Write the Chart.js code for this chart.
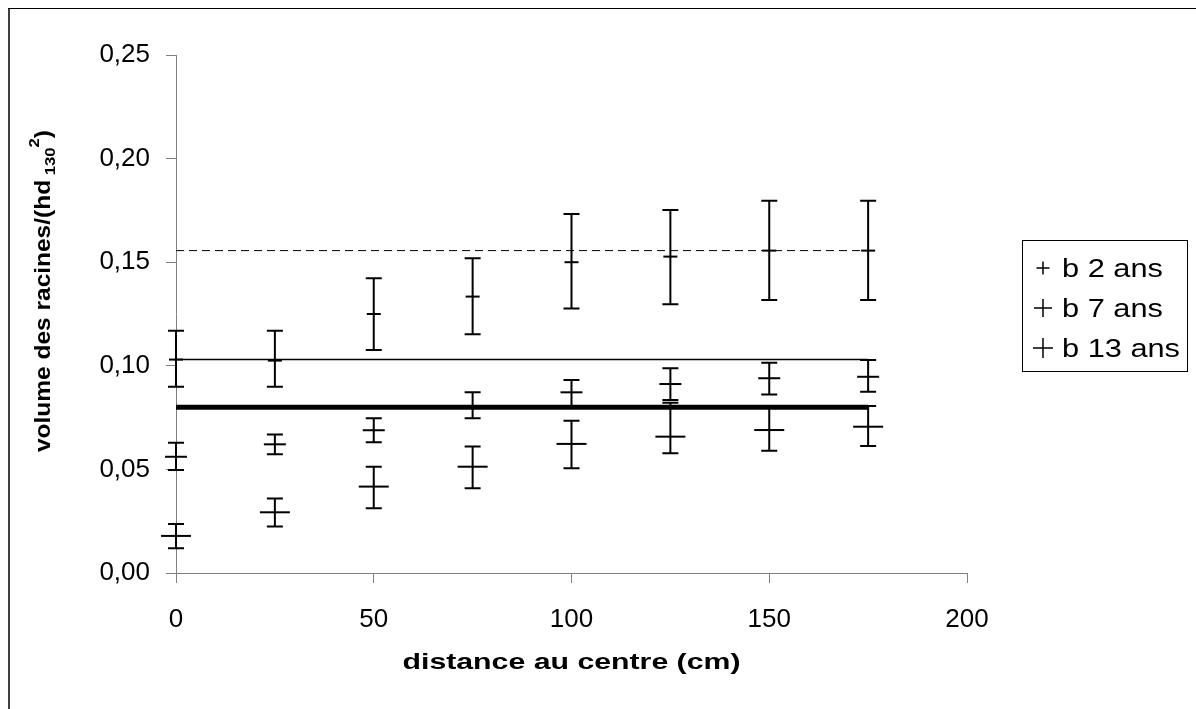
<!DOCTYPE html>
<html>
<head>
<meta charset="utf-8">
<script src="https://cdn.jsdelivr.net/npm/chart.js@4"></script>
<style>
  html, body { margin: 0; padding: 0; background: #fff; }
  canvas { display: block; }
</style>
</head>
<body>
<canvas id="racinesChart" width="1196" height="709"></canvas>
<script>
const distances = [0, 25, 50, 75, 100, 125, 150, 175];

// moyennes et bornes des barres d'erreur, par age
const moy2ans = [0.103, 0.1025, 0.125, 0.1334, 0.150, 0.1527, 0.1556, 0.1556];
const min2ans = [0.0899, 0.0899, 0.1076, 0.1152, 0.1277, 0.1297, 0.1318, 0.1318];
const max2ans = [0.1169, 0.1169, 0.1422, 0.1519, 0.1733, 0.1752, 0.1797, 0.1797];

const moy7ans = [0.0561, 0.0621, 0.0689, 0.0803, 0.0872, 0.0912, 0.0940, 0.0947];
const min7ans = [0.0497, 0.0573, 0.0631, 0.0747, 0.0806, 0.0835, 0.0862, 0.0875];
const max7ans = [0.0629, 0.0669, 0.0747, 0.0872, 0.0931, 0.0988, 0.1015, 0.1028];

const moy13ans = [0.0179, 0.0293, 0.0417, 0.0513, 0.0623, 0.0658, 0.0690, 0.0706];
const min13ans = [0.0119, 0.0224, 0.0312, 0.0409, 0.0505, 0.0578, 0.0590, 0.0613];
const max13ans = [0.0237, 0.0360, 0.0513, 0.0610, 0.0735, 0.0822, 0.0803, 0.0806];

// niveaux horizontaux (pointillé, fin, épais)
const niveaux = [0.1556, 0.1030, 0.0800];

const legendLabels = ['b 2 ans', 'b 7 ans', 'b 13 ans'];
const yTicks = [0, 0.05, 0.10, 0.15, 0.20, 0.25];
const xTicks = [0, 50, 100, 150, 200];
const xTitle = 'distance au centre (cm)';

const FONT = "'Liberation Sans', Arial, sans-serif";

function points(values) {
    return distances.map((d, i) => ({ x: d, y: values[i] }));
}

function serie(label, values, low, high, radius) {
    return {
        label: label,
        data: points(values),
        errLow: low,
        errHigh: high,
        showLine: false,
        pointStyle: 'line',
        pointRadius: radius,
        pointHoverRadius: radius,
        pointBorderWidth: 2,
        borderColor: '#000',
        backgroundColor: '#000',
        clip: false
    };
}

function niveau(value, width, dash) {
    return {
        data: [{ x: distances[0], y: value }, { x: distances[distances.length - 1], y: value }],
        showLine: true,
        pointRadius: 0,
        borderWidth: width,
        borderDash: dash,
        borderColor: '#000',
        clip: false
    };
}

const errorBars = {
    id: 'errorBars',
    afterDatasetsDraw(chart) {
        const ctx = chart.ctx;
        const xs = chart.scales.x, ys = chart.scales.y;
        ctx.save();
        ctx.strokeStyle = '#000';
        ctx.lineWidth = 2;
        chart.data.datasets.forEach(ds => {
            if (!ds.errLow) return;
            distances.forEach((d, i) => {
                const x = xs.getPixelForValue(d);
                const y1 = ys.getPixelForValue(ds.errLow[i]);
                const y2 = ys.getPixelForValue(ds.errHigh[i]);
                ctx.beginPath();
                ctx.moveTo(x, y1); ctx.lineTo(x, y2);
                ctx.moveTo(x - 8, y1); ctx.lineTo(x + 8, y1);
                ctx.moveTo(x - 8, y2); ctx.lineTo(x + 8, y2);
                ctx.stroke();
            });
        });
        ctx.restore();
    }
};

// cadre, légende encadrée et titres des axes (texte un peu étiré)
const decor = {
    id: 'decor',
    afterDraw(chart) {
        const ctx = chart.ctx;
        ctx.save();
        ctx.fillStyle = '#000';

        ctx.strokeStyle = '#404040';
        ctx.lineWidth = 2;
        ctx.beginPath();
        ctx.moveTo(9, 709); ctx.lineTo(9, 8);
        ctx.stroke();
        ctx.strokeStyle = '#000';
        ctx.lineWidth = 1;
        ctx.beginPath();
        ctx.moveTo(8, 8.5); ctx.lineTo(1196, 8.5);
        ctx.stroke();

        // légende
        ctx.strokeRect(1022.5, 240.5, 165, 131);
        const sizes = [6.5, 9, 10];
        ctx.font = '26px ' + FONT;
        ctx.textBaseline = 'alphabetic';
        const sx = 118 / ctx.measureText(legendLabels[2]).width;
        legendLabels.forEach((lab, i) => {
            const base = 277 + i * 40;
            const cx = 1043, cy = base - 9;
            const r = sizes[i];
            ctx.lineWidth = 1.5;
            ctx.beginPath();
            ctx.moveTo(cx - r, cy); ctx.lineTo(cx + r, cy);
            ctx.moveTo(cx, cy - r); ctx.lineTo(cx, cy + r);
            ctx.stroke();
            ctx.save();
            ctx.translate(1062, base);
            ctx.scale(sx, 1);
            ctx.fillText(lab, 0, 0);
            ctx.restore();
        });

        // titre de l'axe x
        const ca = chart.chartArea;
        ctx.save();
        ctx.font = 'bold 22px ' + FONT;
        ctx.textBaseline = 'middle';
        ctx.textAlign = 'center';
        ctx.translate((ca.left + ca.right) / 2, 663);
        ctx.scale(338 / ctx.measureText(xTitle).width, 1);
        ctx.fillText(xTitle, 0, 0);
        ctx.restore();

        // titre de l'axe y avec indice et exposant
        const big = 'bold 22px ' + FONT;
        const small = 'bold 15px ' + FONT;
        const parts = [
            { t: 'volume des racines/(hd', f: big, dy: 0 },
            { t: ' 130', f: small, dy: 5 },
            { t: '2', f: small, dy: -11 },
            { t: ')', f: big, dy: 0 }
        ];
        let total = 0;
        parts.forEach(p => { ctx.font = p.f; p.w = ctx.measureText(p.t).width; total += p.w; });
        ctx.textAlign = 'left';
        ctx.translate(50, 291);
        ctx.rotate(-Math.PI / 2);
        ctx.scale(322 / total, 1);
        let x = -total / 2;
        parts.forEach(p => {
            ctx.font = p.f;
            ctx.fillText(p.t, x, p.dy);
            x += p.w;
        });
        ctx.restore();
    }
};

const axisColor = '#808080';

new Chart(document.getElementById('racinesChart'), {
    type: 'scatter',
    data: {
        datasets: [
            serie(legendLabels[0], moy2ans, min2ans, max2ans, 7),
            serie(legendLabels[1], moy7ans, min7ans, max7ans, 11),
            serie(legendLabels[2], moy13ans, min13ans, max13ans, 15),
            niveau(niveaux[0], 1, [8, 5]),
            niveau(niveaux[1], 1.5, []),
            niveau(niveaux[2], 5, [])
        ]
    },
    options: {
        responsive: false,
        animation: false,
        layout: { padding: { top: 55, right: 229, left: 0, bottom: 0 } },
        plugins: {
            legend: { display: false },
            tooltip: { enabled: false }
        },
        scales: {
            x: {
                type: 'linear',
                min: 0,
                max: 200,
                afterBuildTicks: scale => { scale.ticks = xTicks.map(v => ({ value: v })); },
                afterFit: scale => { scale.height = 136; },
                grid: { drawOnChartArea: false, drawTicks: true, tickLength: 10, tickColor: axisColor },
                border: { display: true, color: axisColor, width: 1 },
                ticks: {
                    padding: 21,
                    color: '#000',
                    font: { family: FONT, size: 26 },
                    callback: v => String(v)
                }
            },
            y: {
                type: 'linear',
                min: 0,
                max: 0.25,
                afterBuildTicks: scale => { scale.ticks = yTicks.map(v => ({ value: v })); },
                afterFit: scale => { scale.width = 176; },
                grid: { drawOnChartArea: false, drawTicks: true, tickLength: 10, tickColor: axisColor },
                border: { display: true, color: axisColor, width: 1 },
                ticks: {
                    padding: 16,
                    color: '#000',
                    font: { family: FONT, size: 26 },
                    callback: v => v.toFixed(2).replace('.', ',')
                }
            }
        }
    },
    plugins: [errorBars, decor]
});
</script>
</body>
</html>
